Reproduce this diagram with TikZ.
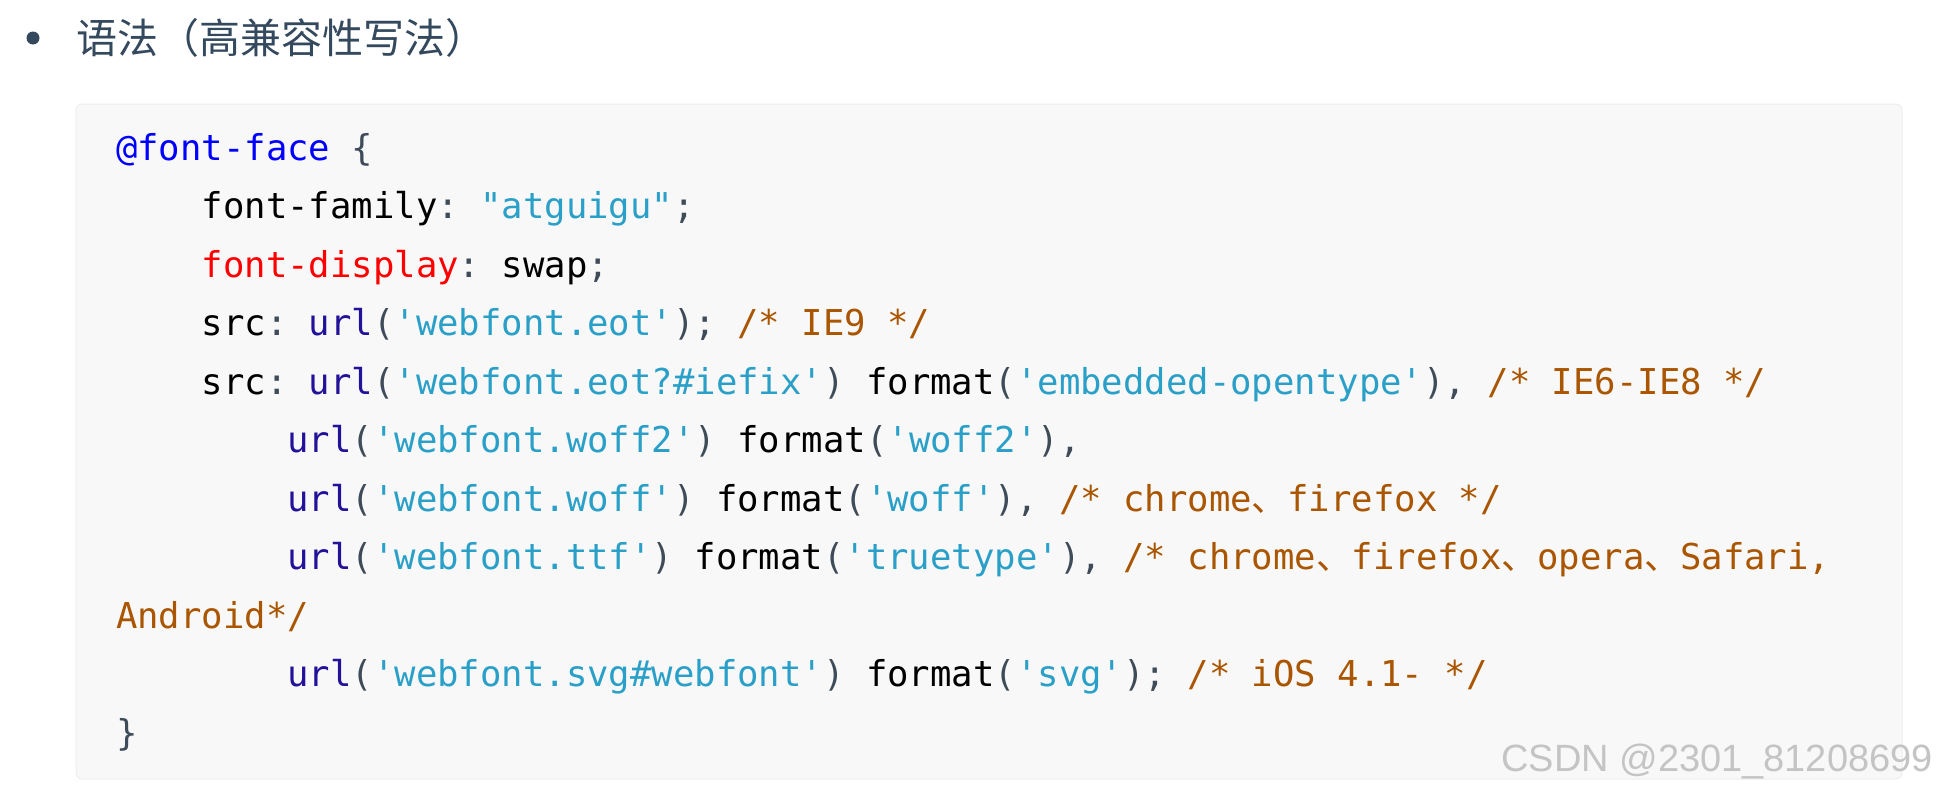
\documentclass[tikz,border=0pt]{standalone}
\usepackage{fontspec}
\setmonofont{DejaVu Sans Mono}
\newfontfamily\cjk{Noto Sans CJK SC}
\newfontfamily\wmfont{Liberation Sans}
\definecolor{kpun}{HTML}{3E4B58}
\definecolor{kstr}{HTML}{2AA0C8}
\definecolor{katm}{HTML}{221199}
\definecolor{kcom}{HTML}{AA5500}
\definecolor{kdef}{HTML}{0000FF}
\definecolor{kred}{HTML}{FF0000}
\definecolor{titlec}{HTML}{34495E}
\definecolor{boxbg}{HTML}{F8F8F8}
\definecolor{boxln}{HTML}{EEEEEE}
\definecolor{wmc}{HTML}{C4C4C4}
\newcommand\kpu[1]{\textcolor{kpun}{#1}}
\newcommand\kst[1]{\textcolor{kstr}{#1}}
\newcommand\kat[1]{\textcolor{katm}{#1}}
\newcommand\kcm[1]{\textcolor{kcom}{#1}}
\newcommand\kdf[1]{\textcolor{kdef}{#1}}
\newcommand\krd[1]{\textcolor{kred}{#1}}
\newcommand\zh[1]{{\cjk #1}}
\begin{document}
\begin{tikzpicture}[x=1pt,y=-1pt,
  codeline/.style={anchor=base west,inner sep=0pt,outer sep=0pt,text=black,
    font=\ttfamily\fontsize{35.6}{40}\selectfont},
  titletext/.style={anchor=base west,inner sep=0pt,text=titlec,
    font=\cjk\fontsize{41}{45}\selectfont},
  watermark/.style={anchor=base east,inner sep=0pt,text=wmc,
    font=\wmfont\fontsize{38}{42}\selectfont}]
\useasboundingbox[fill=white] (0,0) rectangle (1937,787);
% bullet and title
\fill[titlec] (33,38) circle (6.5);
\node[titletext] (title) at (76,53) {语法（高兼容性写法）};
% code box
\draw[boxln,fill=boxbg,rounded corners=6pt,line width=1pt] (76,104) rectangle (1902,779);
\def\cw{21.43}
\def\cx{116}
\node[codeline] (l1) at (\cx,160) {\kdf{@font-face} \kpu{\{}};
\node[codeline] (l2) at (\cx+4*\cw,218.5) {font-family\kpu{:} \kst{"atguigu"}\kpu{;}};
\node[codeline] (l3) at (\cx+4*\cw,277) {\krd{font-display}\kpu{:} swap\kpu{;}};
\node[codeline] (l4) at (\cx+4*\cw,335.5) {src\kpu{:} \kat{url}\kpu{(}\kst{'webfont.eot'}\kpu{);} \kcm{/* IE9 */}};
\node[codeline] (l5) at (\cx+4*\cw,394) {src\kpu{:} \kat{url}\kpu{(}\kst{'webfont.eot?\#iefix'}\kpu{)} format\kpu{(}\kst{'embedded-opentype'}\kpu{),} \kcm{/* IE6-IE8 */}};
\node[codeline] (l6) at (\cx+8*\cw,452.5) {\kat{url}\kpu{(}\kst{'webfont.woff2'}\kpu{)} format\kpu{(}\kst{'woff2'}\kpu{),}};
\node[codeline] (l7) at (\cx+8*\cw,511) {\kat{url}\kpu{(}\kst{'webfont.woff'}\kpu{)} format\kpu{(}\kst{'woff'}\kpu{),} \kcm{/* chrome\zh{、}firefox */}};
\node[codeline] (l8) at (\cx+8*\cw,569.5) {\kat{url}\kpu{(}\kst{'webfont.ttf'}\kpu{)} format\kpu{(}\kst{'truetype'}\kpu{),} \kcm{/* chrome\zh{、}firefox\zh{、}opera\zh{、}Safari,}};
\node[codeline] (l9) at (\cx,628) {\kcm{Android*/}};
\node[codeline] (l10) at (\cx+8*\cw,686.5) {\kat{url}\kpu{(}\kst{'webfont.svg\#webfont'}\kpu{)} format\kpu{(}\kst{'svg'}\kpu{);} \kcm{/* iOS 4.1- */}};
\node[codeline] (l11) at (\cx,745) {\kpu{\}}};
% watermark
\node[watermark] (wm) at (1933,771) {CSDN @2301\_81208699};
\end{tikzpicture}
\end{document}
